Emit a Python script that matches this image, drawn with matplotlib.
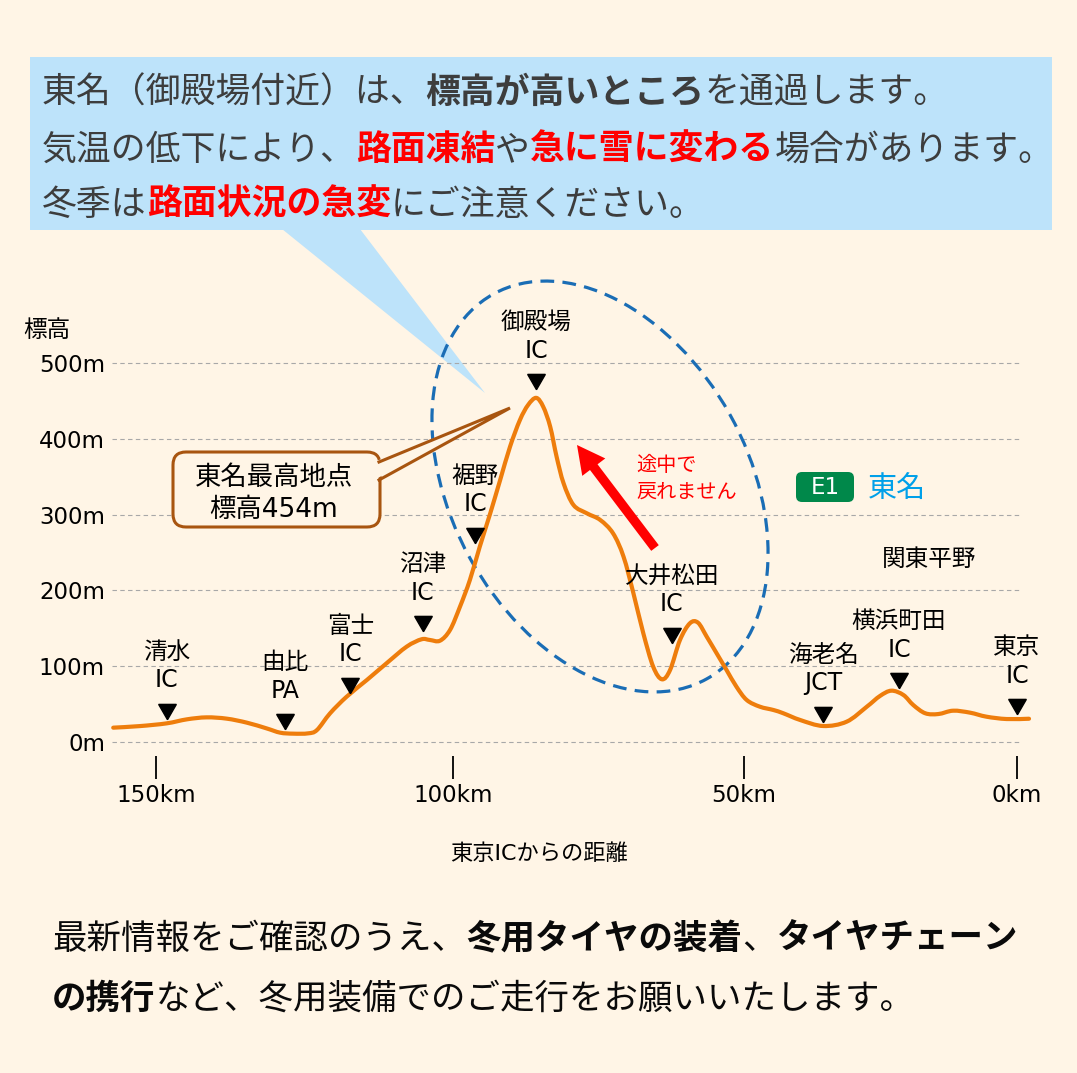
import numpy as np
import matplotlib
matplotlib.use("Agg")
import matplotlib.pyplot as plt
from matplotlib.patches import FancyBboxPatch, Polygon, Ellipse, Rectangle, PathPatch
from matplotlib.path import Path
from matplotlib.ticker import NullLocator

plt.rcParams['font.family'] = ['DejaVu Sans', 'Noto Sans CJK JP']

# ---------------- data ----------------
distance_km = [157.2, 152.7, 148.2, 144.8, 141.5, 138.1, 134.7, 131.4, 129.1, 126.9,
               124.4, 122.9, 120.7, 117.9, 114.5, 111.2, 107.8, 105.3, 103.9, 102.2,
               100.5, 98.8, 97.1, 95.4, 93.6, 91.9, 90.2, 88.5, 87.1, 85.7,
               84.5, 83.3, 82.2, 81.0, 79.3, 77.0, 74.7, 72.5, 70.7, 69.0,
               67.3, 65.6, 64.1, 62.7, 61.0, 59.3, 57.9, 56.4, 54.7, 53.0,
               51.3, 49.5, 47.1, 44.6, 42.8, 39.7, 35.5, 31.2, 27.5, 25.1,
               23.0, 20.8, 19.0, 16.8, 14.4, 11.7, 8.6, 5.6, 1.9, -2.2]
elevation_m = [18.9, 21.0, 24.6, 29.9, 32.5, 30.8, 25.5, 18.0, 12.3, 11.0,
               11.4, 15.8, 37.8, 59.8, 81.8, 103.8, 125.8, 135.5, 134.6, 133.6,
               147.8, 178.5, 213.7, 257.7, 301.7, 345.6, 389.6, 424.8, 444.6, 454.0,
               442.3, 416.0, 376.4, 341.3, 312.7, 301.7, 292.9, 275.3, 244.5, 196.2,
               143.4, 99.3, 82.7, 95.0, 134.6, 156.6, 157.4, 138.9, 117.0, 95.0,
               73.0, 55.4, 46.6, 42.2, 37.9, 29.0, 21.1, 26.8, 46.6, 60.7,
               67.7, 62.0, 48.8, 37.9, 36.9, 41.3, 38.7, 33.4, 30.3, 30.7]

ic_names = ['清水', '由比', '富士', '沼津', '裾野', '御殿場', '大井松田', '海老名', '横浜町田', '東京']
ic_kinds = ['IC', 'PA', 'IC', 'IC', 'IC', 'IC', 'IC', 'JCT', 'IC', 'IC']
ic_km = [148.2, 128.3, 117.3, 105.1, 96.2, 85.7, 62.4, 35.5, 21.6, 0.0]
ic_marker_m = [44, 30, 78, 159, 276, 479, 144, 40, 84, 50]

x_ticks_km = [150, 100, 50, 0]
x_tick_labels = ['150km', '100km', '50km', '0km']
y_ticks_m = [0, 100, 200, 300, 400, 500]
y_tick_labels = ['0m', '100m', '200m', '300m', '400m', '500m']
summit_elev_m = 454

# ---------------- figure ----------------
W, H = 1077, 1073
BG = '#FFF5E6'
fig = plt.figure(figsize=(W / 100, H / 100), dpi=100, facecolor=BG)

ov = fig.add_axes([0, 0, 1, 1], zorder=0)
ov.set_xlim(0, W)
ov.set_ylim(H, 0)
ov.axis('off')
P = ov.transData

ax_left, ax_right, ax_top, ax_bot = 112, 1021, 300, 756
ax = fig.add_axes([ax_left / W, (H - ax_bot) / H, (ax_right - ax_left) / W, (ax_bot - ax_top) / H], zorder=1)
ax.patch.set_alpha(0)

# piecewise distance scale (as printed on the original axis)
seg_km = np.array([-1000.0, 0.0, 50.0, 100.0, 150.0, 1000.0])
seg_u = np.array([-5460.0, 0.0, 273.0, 564.0, 861.0, 861.0 + 850 * 5.94])


def fwd(k):
    return np.interp(np.asarray(k, dtype=float), seg_km, seg_u)


def inv(u):
    return np.interp(np.asarray(u, dtype=float), seg_u, seg_km)


ax.set_xscale('function', functions=(fwd, inv))
ax.set_xlim(float(inv(1017 - ax_left)), float(inv(1017 - ax_right)))
pxm = (742 - 363) / 500.0
ax.set_ylim(-(ax_bot - 742) / pxm, (742 - ax_top) / pxm)

ax.set_xticks(x_ticks_km, x_tick_labels)
ax.xaxis.set_minor_locator(NullLocator())
ax.set_yticks(y_ticks_m, y_tick_labels)
ax.tick_params(axis='x', length=16.6, width=1.3, color='black', pad=3.5, labelsize=16.5)
ax.tick_params(axis='y', length=0, pad=5, labelsize=16.5)
for s in ax.spines.values():
    s.set_visible(False)
ax.set_axisbelow(True)
ax.grid(axis='y', ls=(0, (4, 3)), color='#A8A8A8', lw=0.8)
ax.grid(axis='x', visible=False)

ax.set_xlabel('東京ICからの距離', fontsize=16)
ax.xaxis.set_label_coords((539 - ax_left) / (ax_right - ax_left), (ax_bot - 860) / (ax_bot - ax_top))
ax.xaxis.label.set_va('baseline')

# ---------------- background decorations ----------------
ov.add_patch(Rectangle((30, 57), 1022, 173, fc='#BDE3FA', ec='none', zorder=1))
ov.add_patch(Polygon([(282, 229), (485, 393), (360, 229)], closed=True, fc='#BDE3FA', ec='none', zorder=1))

# dashed ellipse
ax.add_patch(Ellipse((600, 486.5), 440, 297, angle=61, transform=P, fill=False,
                     ec='#1A6DB5', lw=2.3, ls=(0, (4.3, 2.6)), clip_on=False, zorder=3))

# elevation profile: smooth (Catmull-Rom) line through the read points
pts = np.column_stack([fwd(distance_km), np.asarray(elevation_m, dtype=float)])
ext = np.vstack([pts[0], pts, pts[-1]])
verts = [pts[0]]
codes = [Path.MOVETO]
for i in range(len(pts) - 1):
    p0, p1, p2, p3 = ext[i], ext[i + 1], ext[i + 2], ext[i + 3]
    verts += [p1 + (p2 - p0) / 6.0, p2 - (p3 - p1) / 6.0, p2]
    codes += [Path.CURVE4] * 3
verts = np.array(verts)
verts[:, 0] = inv(verts[:, 0])
ax.add_patch(PathPatch(Path(verts, codes), fill=False, ec='#EE7D0C', lw=3,
                       capstyle='round', joinstyle='round', clip_on=False, zorder=4))

# IC markers and labels
ax.plot(ic_km, ic_marker_m, ls='none', marker=(3, 0, 180), ms=14.7, color='black',
        clip_on=False, zorder=5)
for name, kind, k, m in zip(ic_names, ic_kinds, ic_km, ic_marker_m):
    ax.annotate(kind, (k, m), xytext=(0, 15.4), textcoords='offset points', ha='center',
                va='baseline', fontsize=17, annotation_clip=False, zorder=5)
    ax.annotate(name, (k, m), xytext=(0, 36), textcoords='offset points', ha='center',
                va='baseline', fontsize=17, annotation_clip=False, zorder=5)

# summit callout
BR = '#A85510'
ax.add_patch(FancyBboxPatch((173, 452), 207, 75, boxstyle='round,pad=0,rounding_size=13',
                            fc=BG, ec=BR, lw=2.2, transform=P, clip_on=False, zorder=6))
ax.add_patch(Polygon([(374, 462), (510, 408), (374, 480)], closed=True, fc=BG, ec='none',
                     transform=P, clip_on=False, zorder=7))
ax.plot([379, 510, 379], [462, 408, 480], color=BR, lw=2.2, transform=P, clip_on=False,
        solid_joinstyle='miter', zorder=8)
ax.text(274, 485, '東名最高地点', fontsize=19, ha='center', va='baseline', transform=P, zorder=9)
ax.text(274, 517, f'標高{summit_elev_m}m', fontsize=19, ha='center', va='baseline', transform=P, zorder=9)

# red arrow and note
ax.annotate('', xy=(577, 445), xytext=(655, 548), xycoords=P, textcoords=P,
            arrowprops=dict(arrowstyle='simple,head_length=0.5,head_width=0.52,tail_width=0.17',
                            mutation_scale=40, fc='#FF0000', ec='none', shrinkA=0, shrinkB=0),
            annotation_clip=False, zorder=6)
ax.text(636, 470.6, '途中で', fontsize=14.5, color='#FF0000', ha='left', va='baseline', transform=P)
ax.text(636, 497.6, '戻れません', fontsize=14.5, color='#FF0000', ha='left', va='baseline', transform=P)

# E1 badge
ax.add_patch(FancyBboxPatch((796, 472), 58, 30, boxstyle='round,pad=0,rounding_size=6',
                            fc='#00884A', ec='none', transform=P, clip_on=False, zorder=6))
ax.text(825, 487, 'E1', fontsize=16.5, color='white', ha='center', va='center', transform=P, zorder=7)
ax.text(868, 498, '東名', fontsize=21, color='#00A0E9', ha='left', va='baseline', transform=P)
ax.text(929, 566, '関東平野', fontsize=17, color='black', ha='center', va='baseline', transform=P)

# y axis title
ov.text(47, 337, '標高', fontsize=17, ha='center', va='baseline', zorder=2)

# ---------------- rich text lines ----------------
renderer = fig.canvas.get_renderer()


def rich_line(x, yb, segments, size):
    for txt, weight, color in segments:
        t = ov.text(x, yb, txt, fontsize=size, fontweight=weight, color=color,
                    ha='left', va='baseline', zorder=3)
        x += t.get_window_extent(renderer).width


GR = '#3D3D3D'
RED = '#FF0000'
TS = 25.1
rich_line(42, 103, [('東名（御殿場付近）は、', 'normal', GR), ('標高が高いところ', 'bold', GR),
                    ('を通過します。', 'normal', GR)], TS)
rich_line(42, 160, [('気温の低下により、', 'normal', GR), ('路面凍結', 'bold', RED), ('や', 'normal', GR),
                    ('急に雪に変わる', 'bold', RED), ('場合があります。', 'normal', GR)], TS)
rich_line(42, 215, [('冬季は', 'normal', GR), ('路面状況の急変', 'bold', RED),
                    ('にご注意ください。', 'normal', GR)], TS)

BK = '#0A0A0A'
BS = 24.8
rich_line(52, 949, [('最新情報をご確認のうえ、', 'normal', BK), ('冬用タイヤの装着', 'bold', BK),
                    ('、', 'normal', BK), ('タイヤチェーン', 'bold', BK)], BS)
rich_line(52, 1009, [('の携行', 'bold', BK), ('など、冬用装備でのご走行をお願いいたします。', 'normal', BK)], BS)

fig.savefig('out.png', dpi=100, facecolor=BG)
